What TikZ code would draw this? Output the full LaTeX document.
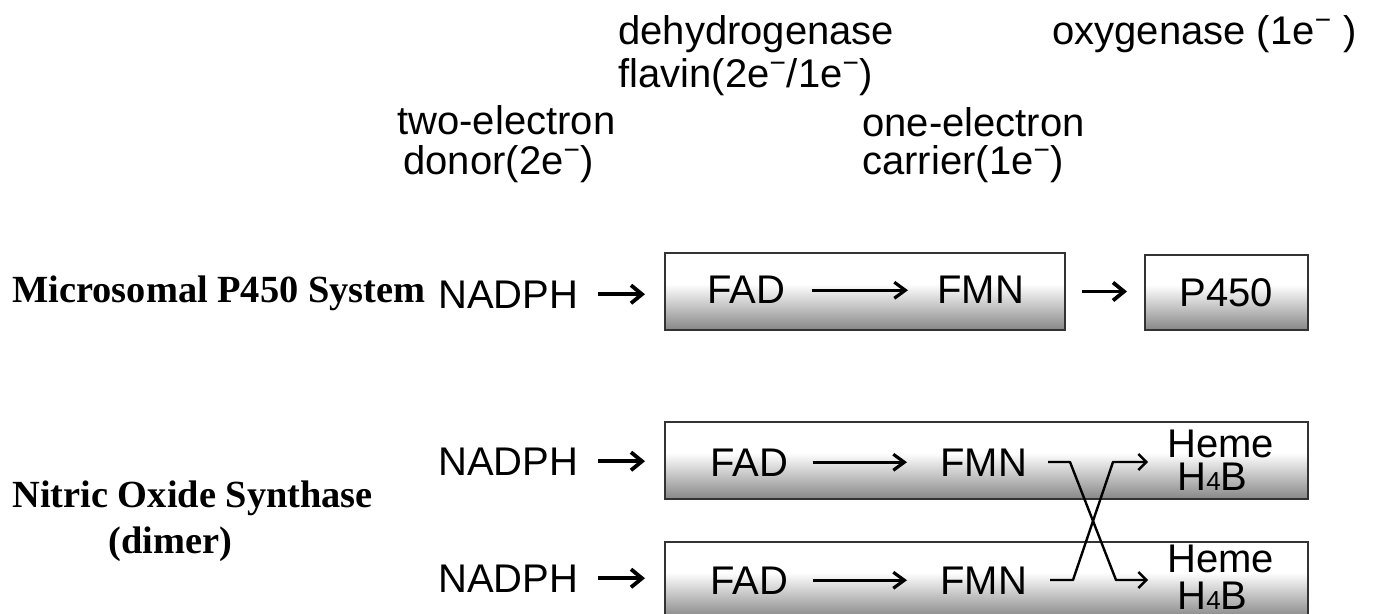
\documentclass[tikz,border=0pt]{standalone}
\usepackage{fontspec}
\setmainfont{Liberation Sans}
\newfontfamily\boldserif{Liberation Serif}
\usetikzlibrary{arrows.meta}
\pgfdeclareverticalshading{boxsh}{100bp}{color(0bp)=(black!82); color(20bp)=(black!55); color(55bp)=(white); color(100bp)=(white)}
\newcommand{\minus}{\textsuperscript{−}}
\tikzset{
  x=0.5pt, y=-0.5pt,
  lbl/.style={anchor=base west, inner sep=0pt, font=\fontsize{20}{22}\selectfont},
  side/.style={anchor=base west, inner sep=0pt, font=\boldserif\bfseries\fontsize{19.2}{21}\selectfont},
  shbox/.style={draw=black!80, line width=1pt, shading=boxsh, inner sep=0pt},
  arr/.style={line width=1.9pt, -{Straight Barb[length=5.5pt,width=9pt]}},
  farr/.style={line width=1.6pt, -{Straight Barb[length=5.5pt,width=8pt]}},
  xarr/.style={line width=1.2pt, -{Straight Barb[length=4pt,width=8pt]}}
}
\begin{document}
\begin{tikzpicture}
\useasboundingbox (0,0) rectangle (1374,614);
% boxes
\node[shbox, minimum width=200pt, minimum height=38.5pt] (box1) at (865,291.5) {};
\node[shbox, minimum width=81.5pt, minimum height=37.5pt, font=\fontsize{20}{22}\selectfont] (p450) at (1226.5,292.5) {\raisebox{-2pt}{P450}};
\node[shbox, minimum width=321.5pt, minimum height=38.5pt] (box2) at (986.5,460.5) {};
\node[shbox, minimum width=321.5pt, minimum height=38pt] (box3) at (986.5,580) {};
% top labels
\node[lbl] (deh) at (618,45) {dehydrogenase};
\node[lbl] (fla) at (618,88) {flavin(2e\minus/1e\minus)};
\node[lbl] (oxy) at (1052,45) {oxygenase (1e\minus\ )};
\node[lbl] (two) at (397,135) {two-electron};
\node[lbl] (don) at (403,175) {donor(2e\minus)};
\node[lbl] (one) at (862,137) {one-electron};
\node[lbl] (car) at (862,175) {carrier(1e\minus)};
% side labels
\node[side] (mic) at (12,303) {Microsomal P450 System};
\node[side] (nos) at (12,507) {Nitric Oxide Synthase};
\node[side] (dim) at (108,553) {(dimer)};
% row 1
\node[lbl] (nad1) at (438,308) {NADPH};
\node[lbl] (fad1) at (707,304) {FAD};
\node[lbl] (fmn1) at (937,304) {FMN};
% row 2
\node[lbl] (nad2) at (438,475) {NADPH};
\node[lbl] (fad2) at (710,476) {FAD};
\node[lbl] (fmn2) at (940,476) {FMN};
\node[lbl] (hem2) at (1167,457) {Heme};
\node[lbl] (hb2) at (1177,490) {H{\fontsize{13}{14}\selectfont 4}B};
% row 3
\node[lbl] (nad3) at (438,592) {NADPH};
\node[lbl] (fad3) at (710,594) {FAD};
\node[lbl] (fmn3) at (940,594) {FMN};
\node[lbl] (hem3) at (1167,572) {Heme};
\node[lbl] (hb3) at (1177,609) {H{\fontsize{13}{14}\selectfont 4}B};
% arrows
\draw[arr, shorten <=9.5pt, shorten >=9.5pt] (nad1.east) -- (nad1.east -| box1.west);
\draw[farr, shorten <=13pt, shorten >=14.5pt] (fad1.east) -- (fmn1.west);
\draw[arr, shorten <=8pt, shorten >=8.5pt] (box1.east) -- (box1.east -| p450.west);
\draw[arr, shorten <=9.5pt, shorten >=9.5pt] (nad2.east) -- (nad2.east -| box2.west);
\draw[farr, shorten <=12pt, shorten >=16.5pt] (fad2.east) -- (fmn2.west);
\draw[arr, shorten <=9.5pt, shorten >=9.5pt] (nad3.east) -- (nad3.east -| box3.west);
\draw[farr, shorten <=12pt, shorten >=16.5pt] (fad3.east) -- (fmn3.west);
% crossing
\coordinate (a1) at (1048,462);
\coordinate (a2) at (1070,462);
\coordinate (a3) at (1116,580);
\coordinate (a4) at (1148,580);
\coordinate (b1) at (1050,580);
\coordinate (b2) at (1073,580);
\coordinate (b3) at (1113,462);
\coordinate (b4) at (1148,462);
\draw[xarr, line join=round] (a1) -- (a2) -- (a3) -- (a4);
\draw[xarr, line join=round] (b1) -- (b2) -- (b3) -- (b4);
\end{tikzpicture}
\end{document}
